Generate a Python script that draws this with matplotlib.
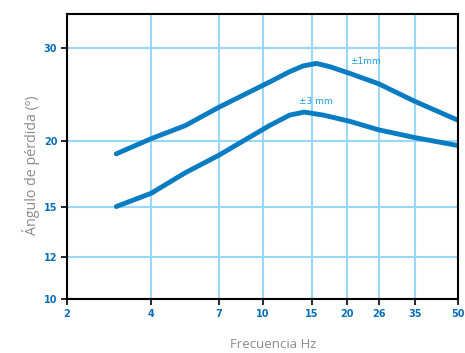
import matplotlib
matplotlib.use("Agg")
import matplotlib.pyplot as plt
from matplotlib.ticker import FixedLocator, NullLocator

# data (frequency in Hz, loss angle in degrees)
freq_1mm = [3, 4, 5.3, 7, 10.6, 12.5, 14, 15.6, 17.4, 20.5, 26, 35, 50]
angle_1mm = [18.9, 20.2, 21.4, 23.2, 25.9, 27.1, 27.8, 28.1, 27.7, 26.9, 25.7, 23.8, 21.9]

freq_3mm = [3, 4, 5.3, 7, 10.6, 12.5, 14.1, 16.5, 20.5, 26, 35, 50]
angle_3mm = [15.0, 15.9, 17.4, 18.8, 21.4, 22.4, 22.7, 22.4, 21.8, 21.0, 20.3, 19.6]

x_ticks = [2, 4, 7, 10, 15, 20, 26, 35, 50]
y_ticks = [10, 12, 15, 20, 30]

line_blue = "#0a7dc2"
grid_blue = "#9ad8fa"
tick_blue = "#0a6fb8"
label_grey = "#8c8c8c"

fig = plt.figure(figsize=(4.65, 3.53), dpi=100)
ax = fig.add_axes([67 / 465, 1 - 299 / 353, (458 - 67) / 465, (299 - 14) / 353])

ax.set_xscale("log")
ax.set_yscale("log")
ax.set_xlim(2, 50)
ax.set_ylim(10, 34.9)

ax.xaxis.set_major_locator(FixedLocator(x_ticks))
ax.xaxis.set_minor_locator(NullLocator())
ax.yaxis.set_major_locator(FixedLocator(y_ticks))
ax.yaxis.set_minor_locator(NullLocator())
ax.set_xticklabels([str(t) for t in x_ticks])
ax.set_yticklabels([str(t) for t in y_ticks])

ax.grid(True, color=grid_blue, linewidth=1.5)
ax.set_axisbelow(True)

# curves
ax.plot(freq_1mm, angle_1mm, color=line_blue, linewidth=3.5, solid_capstyle="round", solid_joinstyle="round")
ax.plot(freq_3mm, angle_3mm, color=line_blue, linewidth=3.5, solid_capstyle="round", solid_joinstyle="round")

# curve labels
ax.text(23.4, 28.3, "±1mm", color="#1a9be0", fontsize=6.5, ha="center", va="center")
ax.text(15.5, 23.8, "±3 mm", color="#1a9be0", fontsize=6.5, ha="center", va="center")

for side in ["left", "right", "top", "bottom"]:
    ax.spines[side].set_color("black")
    ax.spines[side].set_linewidth(1.5)

ax.tick_params(axis="both", direction="out", length=4, width=1.2, color="black",
               labelcolor=tick_blue, labelsize=7, pad=3)
for lab in ax.get_xticklabels() + ax.get_yticklabels():
    lab.set_fontweight("bold")

ax.set_xlabel("Frecuencia Hz", color=label_grey, fontsize=9.5, family="Open Sans")
ax.set_ylabel("Ángulo de pérdida (º)", color=label_grey, fontsize=10.3, family="Open Sans")
ax.xaxis.set_label_coords(0.528, -0.138)
ax.yaxis.set_label_coords(-0.07, 0.47)

plt.savefig("out.png", dpi=100)
